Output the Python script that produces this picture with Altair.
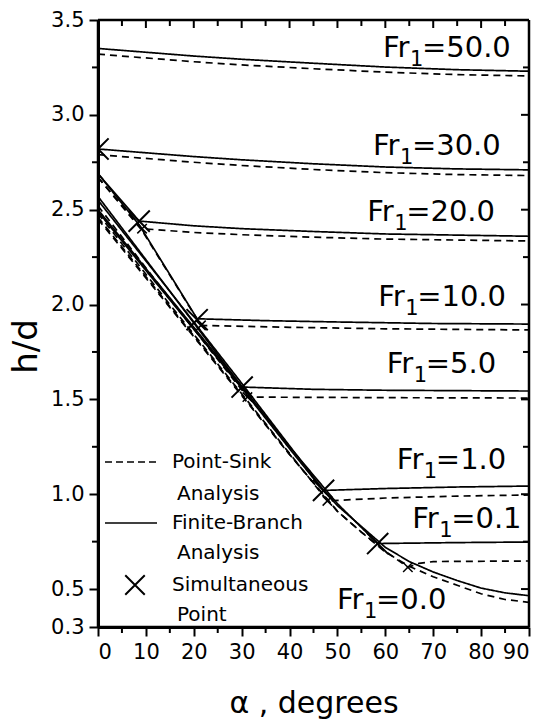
import altair as alt
import pandas as pd

FONT = "DejaVu Sans"
W, H = 431, 607

# ---------------- data ----------------
# Finite-branch analysis (solid)
fb_fr = ["50.0", "30.0", "20.0", "10.0", "5.0", "1.0", "0.1", "0.0"]
fb_alpha = [
    [0, 10, 20, 30, 45, 60, 75, 90],
    [0, 10, 20, 30, 45, 60, 75, 90],
    [0, 8.6, 20, 30, 45, 60, 90],
    [0, 8.6, 20.7, 35, 50, 70, 90],
    [0, 15, 30.1, 45, 60, 90],
    [0, 15, 30, 40, 47.1, 60, 75, 90],
    [0, 15, 30, 40, 50, 58.4, 65, 75, 90],
    [0, 10, 20, 30, 40, 47, 50, 55, 60, 65, 70, 75, 80, 85, 90],
]
fb_h = [
    [3.35, 3.33, 3.31, 3.293, 3.272, 3.252, 3.238, 3.23],
    [2.82, 2.80, 2.78, 2.763, 2.742, 2.725, 2.715, 2.71],
    [2.69, 2.44, 2.415, 2.40, 2.385, 2.372, 2.36],
    [2.69, 2.42, 1.925, 1.915, 1.908, 1.90, 1.897],
    [2.57, 2.07, 1.565, 1.553, 1.548, 1.544],
    [2.55, 2.07, 1.585, 1.255, 1.02, 1.03, 1.038, 1.043],
    [2.50, 2.035, 1.57, 1.25, 0.95, 0.74, 0.742, 0.745, 0.748],
    [2.49, 2.18, 1.87, 1.56, 1.24, 1.02, 0.94, 0.83, 0.72, 0.645, 0.59, 0.545, 0.505, 0.48, 0.465],
]
# Point-sink analysis (dashed)
ps_fr = ["50.0", "30.0", "20.0", "10.0", "5.0", "1.0", "0.1", "0.0"]
ps_alpha = [
    [0, 10, 20, 30, 45, 60, 75, 90],
    [0, 10, 20, 30, 45, 60, 75, 90],
    [0, 9.2, 20, 30, 45, 60, 90],
    [0, 9.2, 21.5, 40, 60, 90],
    [0, 15, 31.2, 60, 90],
    [0, 15, 30, 40, 47.9, 60, 75, 90],
    [0, 15, 30, 40, 50, 55, 60, 64.7, 67, 70, 90],
    [0, 10, 20, 30, 40, 50, 55, 60, 65, 70, 75, 80, 85, 90],
]
ps_h = [
    [3.32, 3.30, 3.28, 3.263, 3.243, 3.225, 3.212, 3.205],
    [2.79, 2.77, 2.75, 2.733, 2.712, 2.695, 2.685, 2.68],
    [2.67, 2.40, 2.38, 2.368, 2.355, 2.345, 2.335],
    [2.67, 2.39, 1.89, 1.88, 1.872, 1.866],
    [2.52, 2.03, 1.512, 1.509, 1.507],
    [2.48, 2.00, 1.53, 1.215, 0.965, 0.98, 0.99, 0.996],
    [2.46, 1.99, 1.525, 1.21, 0.91, 0.80, 0.70, 0.615, 0.635, 0.645, 0.648],
    [2.45, 2.14, 1.83, 1.52, 1.21, 0.91, 0.80, 0.695, 0.62, 0.565, 0.52, 0.475, 0.445, 0.43],
]
# Simultaneous points
sim_alpha = [0, 8.6, 20.7, 30.1, 47.1, 58.4]
sim_h = [2.82, 2.44, 1.92, 1.565, 1.02, 0.74]
# small marks where the dashed curves break
brk_alpha = [9.2, 21.5, 31.2, 47.9, 64.7]
brk_h = [2.40, 1.89, 1.512, 0.965, 0.615]

# Curve labels
lab_fr = ["50.0", "30.0", "20.0", "10.0", "5.0", "1.0", "0.1", "0.0"]
lab_alpha = [59.5, 57.4, 56.2, 58.5, 60.3, 62.4, 65.6, 49.9]
lab_h = [3.305, 2.788, 2.44, 1.992, 1.639, 1.133, 0.822, 0.395]

x_major = list(range(0, 91, 10))
x_minor = list(range(5, 90, 10))
y_labels = [0.3, 0.5, 1.0, 1.5, 2.0, 2.5, 3.0, 3.5]
y_major = [0.5, 1.0, 1.5, 2.0, 2.5, 3.0, 3.5]
y_minor = [0.75, 1.25, 1.75, 2.25, 2.75, 3.25]

legend_text = ["Point-Sink", "Analysis", "Finite-Branch", "Analysis", "Simultaneous", "Point"]

# ---------------- tables ----------------
rows = []
for fr, xs_, ys_ in zip(fb_fr, fb_alpha, fb_h):
    for a, h in zip(xs_, ys_):
        rows.append({"alpha": a, "h": h, "series": "FB" + fr, "method": "Finite-Branch"})
for fr, xs_, ys_ in zip(ps_fr, ps_alpha, ps_h):
    for a, h in zip(xs_, ys_):
        rows.append({"alpha": a, "h": h, "series": "PS" + fr, "method": "Point-Sink"})
curves = pd.DataFrame(rows)
sim = pd.DataFrame({"alpha": sim_alpha, "h": sim_h})
brk = pd.DataFrame({"alpha": brk_alpha, "h": brk_h})
labels = pd.DataFrame({"alpha": lab_alpha, "h": lab_h, "val": ["=" + v for v in lab_fr]})

xs = alt.Scale(domain=[0, 90], nice=False, zero=False)
ys = alt.Scale(domain=[0.3, 3.5], nice=False, zero=False)
X_AX = alt.Axis(values=x_major, format="d", title="α , degrees", grid=False, zindex=1,
                labelFont=FONT, labelFontSize=21, labelColor="black", labelPadding=5,
                tickSize=9, tickWidth=2, tickColor="black",
                domainColor="black", domainWidth=3,
                titleFont=FONT, titleFontSize=30, titleFontWeight="normal", titleColor="black",
                titleY=85, titleBaseline="alphabetic")
Y_AX = alt.Axis(values=y_labels, format=".1f", title="h/d", grid=False, zindex=1,
                labelFont=FONT, labelFontSize=21, labelColor="black", labelPadding=5,
                tickSize=9, tickWidth=2, tickColor="black",
                domainColor="black", domainWidth=3,
                titleFont=FONT, titleFontSize=34, titleFontWeight="normal", titleColor="black",
                titleX=-62, titleY=326, titleBaseline="alphabetic", titleAlign="center", titleAngle=270)

lines = alt.Chart(curves).mark_line(color="black", strokeWidth=1.7, clip=True).encode(
    x=alt.X("alpha:Q", scale=xs, axis=X_AX),
    y=alt.Y("h:Q", scale=ys, axis=Y_AX),
    detail="series:N",
    strokeDash=alt.StrokeDash("method:N", legend=None,
                              scale=alt.Scale(domain=["Finite-Branch", "Point-Sink"],
                                              range=[[1, 0], [7, 5]])),
)

XPATH = "M-1,-1L1,1M-1,1L1,-1"
pts = alt.Chart(sim).mark_point(shape=XPATH, size=450, filled=False, color="black",
                                strokeWidth=2, opacity=1, clip=True).encode(
    x=alt.X("alpha:Q", scale=xs), y=alt.Y("h:Q", scale=ys))
small = alt.Chart(brk).mark_point(shape=XPATH, size=90, filled=False, color="black",
                                  strokeWidth=1.5, opacity=1, clip=True).encode(
    x=alt.X("alpha:Q", scale=xs), y=alt.Y("h:Q", scale=ys))

base_lab = alt.Chart(labels).encode(x=alt.X("alpha:Q", scale=xs),
                                    y=alt.Y("h:Q", scale=ys))
t_fr = base_lab.mark_text(align="left", baseline="alphabetic", font=FONT, fontSize=29,
                          color="black", text="Fr")
t_one = base_lab.mark_text(align="left", baseline="alphabetic", font=FONT, fontSize=21,
                           color="black", text="1", dx=27, dy=9)
t_val = base_lab.mark_text(align="left", baseline="alphabetic", font=FONT, fontSize=29,
                           color="black", dx=39).encode(text="val:N")

# extra ticks (minor ticks and mirrored top/right ticks)
def vrules(vals, y0, y1):
    return alt.Chart(pd.DataFrame({"v": vals})).mark_rule(color="black", strokeWidth=2).encode(
        x=alt.X("v:Q", scale=xs), y=alt.value(y0), y2=alt.value(y1))

def hrules(vals, x0, x1):
    return alt.Chart(pd.DataFrame({"v": vals})).mark_rule(color="black", strokeWidth=2).encode(
        y=alt.Y("v:Q", scale=ys), x=alt.value(x0), x2=alt.value(x1))

ticks = [
    vrules(x_minor, H, H + 6),
    vrules(x_major, 0, 8),
    vrules(x_minor, 0, 6),
    hrules(y_minor, 0, -6),
    hrules(y_major, W, W - 8),
    hrules(y_minor, W, W - 6),
]

one = pd.DataFrame({"k": [0]})
# plot frame
frame = [
    alt.Chart(one).mark_rule(color="black", strokeWidth=2.5).encode(
        x=alt.value(0), x2=alt.value(W), y=alt.value(0)),
    alt.Chart(one).mark_rule(color="black", strokeWidth=2.5).encode(
        x=alt.value(W), y=alt.value(0), y2=alt.value(H)),
    alt.Chart(one).mark_rule(color="black", strokeWidth=2.5).encode(
        x=alt.value(0), y=alt.value(0), y2=alt.value(H)),
    alt.Chart(one).mark_rule(color="black", strokeWidth=2.5).encode(
        x=alt.value(0), x2=alt.value(W), y=alt.value(H)),
]

# legend (drawn in pixel positions inside the plot area)
leg_dash = alt.Chart(one).mark_rule(color="black", strokeWidth=1.7, strokeDash=[7, 4]).encode(
    x=alt.value(7), x2=alt.value(59), y=alt.value(442))
leg_solid = alt.Chart(one).mark_rule(color="black", strokeWidth=1.7).encode(
    x=alt.value(7), x2=alt.value(59), y=alt.value(503))
leg_x = alt.Chart(one).mark_point(shape=XPATH, size=380, filled=False, color="black",
                                  strokeWidth=2, opacity=1).encode(
    x=alt.value(37), y=alt.value(565))
leg_px = [74, 79, 74, 79, 74, 79]
leg_py = [442, 474, 503, 533, 565, 595]
leg_texts = [
    alt.Chart(one).mark_text(align="left", baseline="middle", font=FONT, fontSize=20,
                             color="black", text=t).encode(x=alt.value(px), y=alt.value(py))
    for t, px, py in zip(legend_text, leg_px, leg_py)
]

chart = alt.layer(
    lines, pts, small, t_fr, t_one, t_val, *frame, leg_dash, leg_solid, leg_x, *leg_texts, *ticks
).properties(
    width=W, height=H,
    autosize=alt.AutoSizeParams(type="none"),
    padding={"left": 98, "top": 20, "right": 13, "bottom": 92},
).configure_view(
    stroke="black", strokeWidth=3, strokeOpacity=1
).configure_axis(
    domainColor="black", domainWidth=3, tickColor="black", tickWidth=2, tickSize=9,
    labelColor="black", titleColor="black"
).configure(background="white")

chart.save("out.html", embed_options={"renderer": "svg", "actions": False})
